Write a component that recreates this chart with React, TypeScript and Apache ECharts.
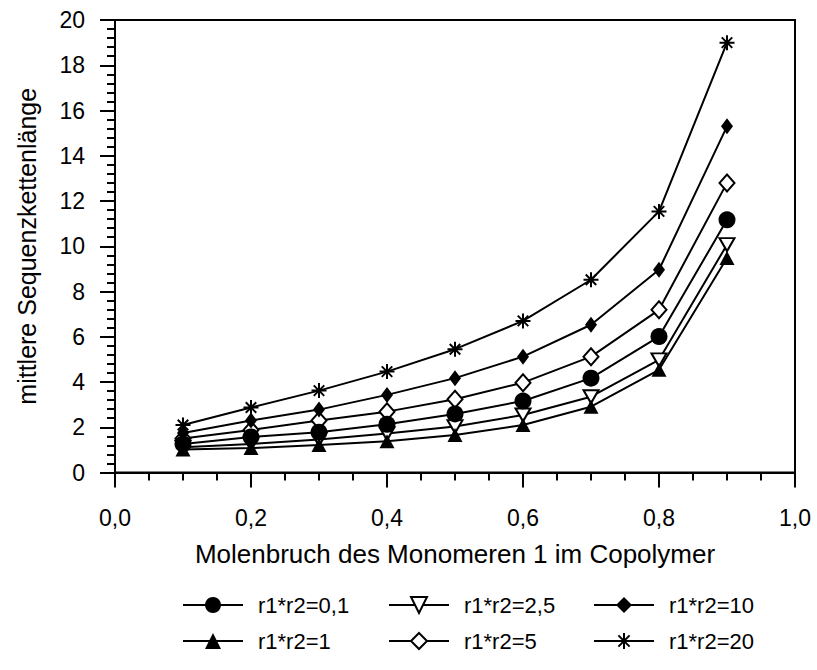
import React, { useEffect, useRef } from 'react';
import * as echarts from 'echarts';

const xValues = [0.1, 0.2, 0.3, 0.4, 0.5, 0.6, 0.7, 0.8, 0.9];
const names = ['r1*r2=0,1', 'r1*r2=1', 'r1*r2=2,5', 'r1*r2=5', 'r1*r2=10', 'r1*r2=20'];
const s01 = [1.26, 1.57, 1.78, 2.13, 2.59, 3.16, 4.17, 6.01, 11.17];
const s1 = [1.02, 1.08, 1.22, 1.38, 1.66, 2.1, 2.91, 4.54, 9.48];
const s25 = [1.12, 1.26, 1.46, 1.72, 2.03, 2.54, 3.35, 4.98, 10.07];
const s5 = [1.5, 1.88, 2.3, 2.69, 3.24, 3.97, 5.12, 7.19, 12.8];
const s10 = [1.75, 2.3, 2.78, 3.43, 4.17, 5.12, 6.53, 8.96, 15.3];
const s20 = [2.1, 2.87, 3.62, 4.46, 5.45, 6.7, 8.52, 11.54, 19.0];

const FONT = "'Liberation Sans', Arial, sans-serif";
const FS = 23;
const XNAME_FS = 26;
const YNAME_FS = 25;
const LEG_FS = 22;

const pair = (vals: number[]) => xValues.map((x, i) => [x, vals[i]]);

export default function App() {
  const ref = useRef<HTMLDivElement>(null);
  useEffect(() => {
    if (!ref.current) return;
    const chart = echarts.init(ref.current, undefined, { renderer: 'svg' });
    const base = {
      type: 'line',
      lineStyle: { color: '#000', width: 2 },
      color: '#000',
      z: 3,
    };
    const star = 'path://M10,0L10,20M0,10L20,10M3,3L17,17M3,17L17,3';
    const triDown = 'path://M0,0L20,0L10,17Z';
    const legendCommon = {
      orient: 'horizontal',
      itemWidth: 60,
      itemHeight: 20,
      padding: 0,
      textStyle: { fontFamily: FONT, fontSize: LEG_FS, color: '#000', padding: [0, 0, 0, 10] },
      selectedMode: false,
    };
    const cols = [182, 388, 593];
    const rows = [594, 630];
    const legendItems = [
      [names[0], 0, 0], [names[1], 0, 1],
      [names[2], 1, 0], [names[3], 1, 1],
      [names[4], 2, 0], [names[5], 2, 1],
    ] as [string, number, number][];
    chart.setOption({
      animation: false,
      backgroundColor: '#fff',
      grid: {
        left: 115, right: 22, top: 20, bottom: 197.5,
        show: true, borderColor: '#000', borderWidth: 2,
      },
      xAxis: {
        type: 'value', min: 0, max: 1, interval: 0.2,
        name: 'Molenbruch des Monomeren 1 im Copolymer',
        nameLocation: 'middle', nameGap: 68,
        nameTextStyle: { fontFamily: FONT, fontSize: XNAME_FS, color: '#000' },
        axisLine: { show: true, lineStyle: { color: '#000', width: 2 } },
        axisTick: { show: true, inside: false, length: 15, lineStyle: { color: '#000', width: 2 } },
        minorTick: { show: true, splitNumber: 4, length: 8, lineStyle: { color: '#000', width: 2 } },
        splitLine: { show: false },
        axisLabel: {
          margin: 34, fontFamily: FONT, fontSize: FS, color: '#000',
          formatter: (v: number) => v.toFixed(1).replace('.', ','),
        },
      },
      yAxis: {
        type: 'value', min: 0, max: 20, interval: 2,
        name: 'mittlere Sequenzkettenlänge',
        nameLocation: 'middle', nameGap: 76, nameRotate: 90,
        nameTextStyle: { fontFamily: FONT, fontSize: YNAME_FS, color: '#000' },
        axisLine: { show: true, lineStyle: { color: '#000', width: 2 } },
        axisTick: { show: true, inside: false, length: 15, lineStyle: { color: '#000', width: 2 } },
        minorTick: { show: true, splitNumber: 5, length: 8, lineStyle: { color: '#000', width: 2 } },
        splitLine: { show: false },
        axisLabel: { margin: 30, fontFamily: FONT, fontSize: FS, color: '#000' },
      },
      legend: legendItems.map(([n, c, r]) => ({
        ...legendCommon, left: cols[c], top: rows[r], data: [n],
      })),
      series: [
        { ...base, name: names[3], data: pair(s5), symbol: 'diamond', symbolSize: [15, 17],
          itemStyle: { color: '#fff', borderColor: '#000', borderWidth: 2 } },
        { ...base, name: names[2], data: pair(s25), symbol: triDown, symbolSize: [15, 13],
          itemStyle: { color: '#fff', borderColor: '#000', borderWidth: 2 } },
        { ...base, name: names[1], data: pair(s1), symbol: 'triangle', symbolSize: [15, 14],
          itemStyle: { color: '#000', borderColor: '#000', borderWidth: 0 } },
        { ...base, name: names[0], data: pair(s01), symbol: 'circle', symbolSize: 17,
          itemStyle: { color: '#000', borderColor: '#000', borderWidth: 0 } },
        { ...base, name: names[4], data: pair(s10), symbol: 'diamond', symbolSize: [12, 16],
          itemStyle: { color: '#000', borderColor: '#000', borderWidth: 0 } },
        { ...base, name: names[5], data: pair(s20), symbol: star, symbolSize: 15,
          itemStyle: { color: '#000', borderColor: '#000', borderWidth: 2 } },
      ],
    });
    return () => chart.dispose();
  }, []);
  return <div ref={ref} style={{ width: 817, height: 670, position: 'absolute', left: 0, top: 0 }} />;
}
